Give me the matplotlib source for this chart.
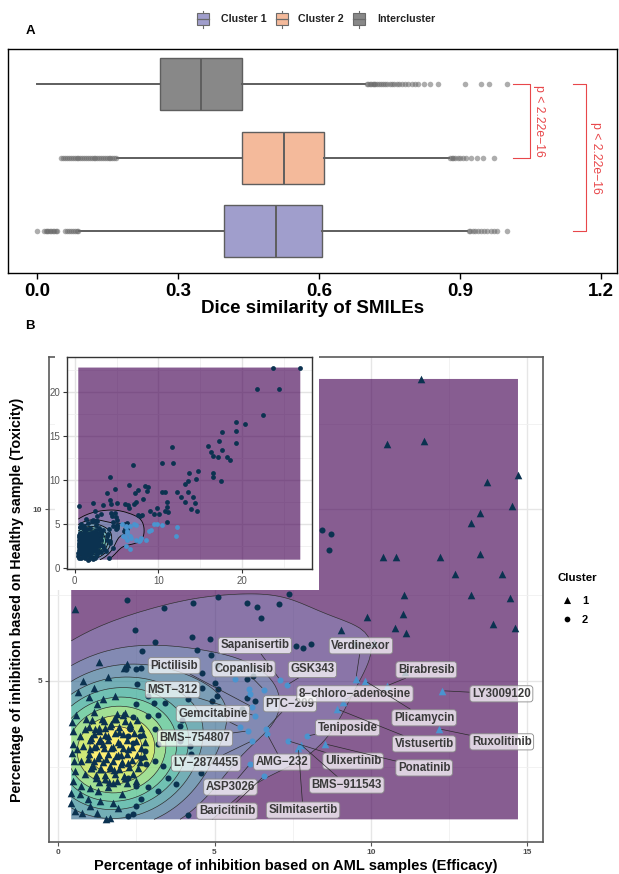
import numpy as np
import matplotlib
matplotlib.use("Agg")
import matplotlib.pyplot as plt
from matplotlib.patches import Rectangle

plt.rcParams['font.family'] = ['Liberation Sans', 'DejaVu Sans']

# ---------------- Panel A data (Dice similarity) ----------------
groups = ["Cluster 1", "Cluster 2", "Intercluster"]
group_colors = ["#A09ECC", "#F4BA9B", "#888888"]
box_q1 = [0.398, 0.435, 0.261]
box_med = [0.509, 0.526, 0.348]
box_q3 = [0.607, 0.611, 0.437]
whisk_lo = [0.089, 0.170, 0.000]
whisk_hi = [0.915, 0.876, 0.698]
out_c1 = [0.0, 0.014, 0.018, 0.021, 0.024, 0.027, 0.030, 0.033, 0.036, 0.040, 0.043,
          0.060, 0.064, 0.068, 0.072, 0.076, 0.080, 0.084, 0.088,
          0.918, 0.922, 0.927, 0.932, 0.938, 0.944, 0.951, 0.958, 0.965, 0.972, 0.979, 1.0]
out_c2 = [0.051, 0.056, 0.060, 0.064, 0.068, 0.072, 0.076, 0.080, 0.084, 0.088, 0.092,
          0.096, 0.100, 0.104, 0.108, 0.112, 0.116, 0.120, 0.124, 0.128, 0.132, 0.136,
          0.140, 0.144, 0.148, 0.152, 0.156, 0.160, 0.164, 0.168,
          0.878, 0.882, 0.886, 0.890, 0.895, 0.900, 0.906, 0.912, 0.924, 0.936, 0.949, 0.972]
out_ic = [0.702, 0.705, 0.708, 0.711, 0.714, 0.717, 0.720, 0.724, 0.728, 0.732, 0.736,
          0.740, 0.745, 0.750, 0.755, 0.760, 0.765, 0.770, 0.776, 0.782, 0.790, 0.797,
          0.805, 0.810, 0.823, 0.836, 0.853, 0.911, 0.945, 0.962, 1.0]
dice_ticks = [0.0, 0.3, 0.6, 0.9, 1.2]
p_label = "p < 2.22e\u221216"

# ---------------- Panel B data ----------------
# cluster 1 (triangles)
c1_x = [11.6, 10.5, 11.7, 13.7, 14.7, 14.5, 13.5, 13.2, 10.4, 10.8, 12.2, 13.5, 12.7, 14.2,
        11.05, 13.2, 14.44, 9.87, 11.02, 10.77, 11.12, 9.04, 13.9, 14.6, 10.1, 9.5, 11.1,
        0.58, 1.18, 1.5, 1.85, 2.08, 0.48, 0.7, 1.05, 1.34, 1.6, 0.48, 0.8, 1.02, 1.21, 1.44,
        1.69, 1.98, 2.24, 1.85, 1.53, 1.28, 0.96, 0.73, 0.51, 1.12, 1.37, 1.66, 2.01, 0.54,
        0.86, 1.21, 1.5, 1.76, 2.14, 0.48, 0.73, 1.02, 1.28, 0.42, 0.7, 0.96, 0.42, 1.02,
        1.34, 1.53, 1.66, 2.14,
        0.54, 1.31, 2.2, 2.12, 0.64, 0.99, 1.25, 1.44, 1.82, 1.88,
        0.45, 0.6, 0.9, 1.15, 1.4, 1.7, 1.95, 2.0, 1.8, 1.6, 1.05, 0.85, 1.3, 0.55, 0.75,
        1.25, 1.9, 2.05, 1.75, 0.45, 2.25, 2.3, 1.15, 0.8, 1.6,
        1.1, 1.47, 1.8, 2.13, 2.52, 1.0, 1.32, 1.66, 1.94, 2.31, 2.64,
        1.16, 1.49, 1.82, 2.09, 2.42, 2.7, 1.02, 1.3, 1.61, 1.9, 2.21, 2.48, 2.79,
        1.14, 1.46, 1.74, 2.06, 2.35, 2.66, 0.99, 1.31, 1.6, 1.92, 2.19, 2.51, 2.74,
        1.16, 1.44, 1.76, 2.04, 2.36, 2.63, 1.06, 1.34, 1.66, 1.94, 2.26, 2.54,
        1.21, 1.49, 1.81, 2.1, 2.41, 1.3, 1.62, 1.89, 2.21, 2.5]
c1_y = [13.8, 11.9, 12.0, 10.8, 11.0, 10.1, 9.9, 9.6, 8.6, 8.6, 8.6, 8.7, 8.1, 8.1,
        7.51, 7.49, 7.4, 6.87, 6.96, 6.55, 6.4, 6.49, 6.67, 6.55, 6.1, 6.1, 5.25,
        4.0, 3.6, 3.63, 3.89, 4.0, 3.54, 3.39, 3.33, 3.3, 3.39, 3.16, 3.1, 3.01, 3.1, 3.16,
        3.04, 3.16, 3.01, 2.81, 2.72, 2.75, 2.72, 2.66, 2.66, 2.51, 2.43, 2.51, 2.57, 2.37,
        2.28, 2.16, 2.13, 2.02, 2.16, 2.08, 1.93, 1.87, 1.78, 1.73, 1.7, 1.55, 1.43, 1.35,
        1.49, 0.96, 1.0, 4.06,
        7.08, 5.56, 5.5, 5.38, 4.68, 4.53, 4.33, 4.47, 4.56, 4.04,
        3.8, 3.0, 3.9, 4.1, 3.9, 3.75, 3.5, 2.85, 2.4, 1.9, 2.45, 3.6, 3.55, 1.2, 1.15,
        1.15, 1.3, 1.7, 1.45, 2.9, 2.6, 3.75, 4.8, 5.0, 5.1,
        3.86, 3.83, 3.88, 3.84, 3.85, 3.66, 3.63, 3.67, 3.64, 3.68, 3.62,
        3.46, 3.43, 3.47, 3.44, 3.48, 3.45, 3.26, 3.24, 3.27, 3.23, 3.28, 3.25, 3.22,
        3.06, 3.04, 3.07, 3.03, 3.08, 3.05, 2.86, 2.84, 2.87, 2.83, 2.88, 2.85, 2.82,
        2.66, 2.63, 2.67, 2.64, 2.68, 2.62, 2.46, 2.44, 2.47, 2.43, 2.48, 2.45,
        2.26, 2.24, 2.27, 2.23, 2.28, 2.06, 2.04, 2.07, 2.03, 2.08]
# cluster 2 (circles)
c2_x = [2.2, 3.39, 4.31, 5.1, 6.04, 6.36, 7.06, 7.38, 6.49, 2.46, 3.1, 4.28, 4.86, 2.68,
        4.44, 4.9, 7.6, 7.83, 8.08, 2.17, 2.49, 2.65, 2.52, 4.6, 5.08, 6.04, 6.23, 5.02,
        5.1, 5.08, 4.92, 4.6, 6.04, 6.29, 5.88, 2.88, 3.42, 2.49, 3.07, 4.15, 2.4, 2.88,
        3.2, 3.96, 2.3, 2.24, 2.62, 3.1, 3.2, 2.4, 2.78, 3.9, 3.9, 4.22, 4.25, 2.65, 2.81,
        3.1, 3.35, 4.57, 3.51, 3.77, 2.24, 2.49, 2.88, 3.2, 2.65, 2.49, 2.24, 2.4, 4.15,
        7.0, 4.2, 6.5, 4.8, 7.6, 3.8, 7.2, 8.2, 4.2, 8.43, 8.72, 8.66]
c2_y = [7.37, 7.13, 7.28, 7.43, 7.28, 7.16, 7.25, 7.54, 6.84, 6.49, 6.14, 6.29, 6.23, 5.88,
        5.91, 5.76, 6.02, 5.96, 6.08, 5.35, 5.35, 5.38, 4.91, 5.23, 5.45, 5.06, 5.15, 4.94,
        4.77, 4.56, 4.41, 4.8, 4.5, 4.41, 4.18, 4.56, 4.36, 4.33, 4.36, 4.47, 3.95, 3.98,
        4.0, 3.86, 3.6, 3.39, 3.39, 3.6, 3.16, 3.19, 2.95, 3.68, 3.25, 3.1, 2.86, 2.75, 2.57,
        2.66, 2.51, 2.3, 2.16, 1.99, 2.16, 1.93, 1.9, 1.78, 1.55, 1.35, 1.05, 1.11, 1.1,
        11.7, 10.4, 9.4, 9.05, 8.9, 8.5, 8.5, 7.9, 7.8, 9.39, 9.27, 8.8]
# points outside the zoomed window (only in the inset)
far_x = [23.75, 27.0, 21.8, 24.5, 22.5, 19.3, 20.4, 17.6, 19.3, 17.3, 19.3, 16.0, 16.3,
         17.6, 16.6, 17.2, 18.2, 18.6, 16.5, 16.6, 17.5]
far_y = [22.8, 22.8, 20.4, 20.4, 17.35, 16.6, 16.4, 15.45, 15.6, 14.5, 14.2, 13.9, 13.2,
         13.4, 12.8, 12.6, 12.65, 12.3, 10.8, 10.4, 9.9]
# highlighted drugs
drug_names = ["Sapanisertib", "GSK343", "Copanlisib", "Pictilisib", "MST\u2212312",
              "Gemcitabine", "BMS\u2212754807", "LY\u22122874455", "PTC\u2212209", "AMG\u2212232",
              "ASP3026", "Baricitinib", "Ulixertinib", "Teniposide", "Silmitasertib",
              "BMS\u2212911543", "Ponatinib", "Vistusertib", "8\u2212chloro\u2212adenosine",
              "Verdinexor", "Plicamycin", "Birabresib", "LY3009120", "Ruxolitinib"]
drug_x = [7.1, 7.32, 6.58, 6.2, 6.29, 5.81, 6.07, 6.2, 6.65, 6.68, 6.13, 6.58, 7.35, 7.96,
          7.68, 7.76, 8.53, 8.91, 9.1, 9.52, 9.81, 10.5, 12.27, 12.17]
drug_y = [5.02, 4.88, 4.74, 4.24, 3.98, 3.65, 3.54, 3.25, 3.6, 3.45, 2.57, 2.22, 3.25, 3.39,
          3.05, 3.14, 3.16, 4.18, 4.39, 5.06, 5.0, 4.85, 4.71, 3.6]
drug_cluster = [2, 2, 2, 2, 2, 2, 2, 2, 2, 2, 2, 2, 2, 2, 1, 1, 1, 1, 1, 1, 1, 1, 1, 1]
label_x = [6.29, 8.13, 5.93, 3.71, 3.66, 4.95, 4.38, 4.73, 7.41, 7.16, 5.51, 5.4, 9.43, 9.25,
           7.83, 9.23, 11.7, 11.7, 9.49, 9.68, 11.7, 11.77, 14.17, 14.18]
label_y = [6.03, 5.33, 5.35, 5.44, 4.74, 4.04, 3.33, 2.6, 4.33, 2.63, 1.9, 1.2, 2.66, 3.63,
           1.23, 1.96, 2.46, 3.16, 4.62, 6.02, 3.92, 5.32, 4.62, 3.22]
hl_extra_x = [5.67, 6.1, 6.13]
hl_extra_y = [5.06, 4.77, 4.62]

DARK = "#0B3250"
LIGHT = "#4A94CF"


def bw_nrd(v):
    q1, q3 = np.percentile(v, [25, 75])
    return 4 * 1.06 * min(np.std(v, ddof=1), (q3 - q1) / 1.34) * len(v) ** (-0.2)


def kde2d(x, y, n=100, sd=None):
    if sd is None:
        hx = bw_nrd(x) / 4
        hy = bw_nrd(y) / 4
    else:
        hx, hy = sd
    gx = np.linspace(x.min(), x.max(), n)
    gy = np.linspace(y.min(), y.max(), n)
    kx = np.exp(-0.5 * ((gx[:, None] - x[None, :]) / hx) ** 2) / (np.sqrt(2 * np.pi) * hx)
    ky = np.exp(-0.5 * ((gy[:, None] - y[None, :]) / hy) ** 2) / (np.sqrt(2 * np.pi) * hy)
    z = kx @ ky.T / len(x)
    return gx, gy, z.T


def density(ax, x, y, lw, lcol, nb=10, sd=None):
    gx, gy, Z = kde2d(np.asarray(x), np.asarray(y), sd=sd)
    br = np.linspace(0, Z.max() * 1.0001, nb + 1)
    cols = plt.cm.viridis(np.linspace(0, 1, nb))
    ax.contourf(gx, gy, Z, levels=br, colors=cols, alpha=0.64, zorder=1, antialiased=True)
    ax.contour(gx, gy, Z, levels=br[1:-1], colors=lcol, linewidths=lw, zorder=2)


fig = plt.figure(figsize=(6.19, 8.74), dpi=100)
W, H = 619.0, 874.0


def frac(l, t, r, b):
    return [l / W, 1 - b / H, (r - l) / W, (b - t) / H]


# ---------------- Panel A ----------------
axA = fig.add_axes(frac(8, 49, 617, 273))
flier_lists = [out_c1, out_c2, out_ic]
stats = []
for i in range(3):
    stats.append(dict(med=box_med[i], q1=box_q1[i], q3=box_q3[i], whislo=whisk_lo[i],
                      whishi=whisk_hi[i], fliers=flier_lists[i]))
kw = dict(positions=[1, 2, 3], widths=0.71, patch_artist=True, showcaps=False,
          boxprops=dict(edgecolor="#5E5E5E", linewidth=1.0),
          whiskerprops=dict(color="#5E5E5E", linewidth=1.4),
          medianprops=dict(color="#5E5E5E", linewidth=1.4),
          flierprops=dict(marker="o", markerfacecolor="#6A6A6A", markeredgecolor="none",
                          alpha=0.55, markersize=4.0))
try:
    bp = axA.bxp(stats, orientation="horizontal", **kw)
except TypeError:
    bp = axA.bxp(stats, vert=False, **kw)
for patch, c in zip(bp["boxes"], group_colors):
    patch.set_facecolor(c)
axA.set_xlim(-0.062, 1.234)
axA.set_ylim(0.43, 3.48)
axA.set_xticks(dice_ticks)
axA.set_xticklabels([f"{t:.1f}" for t in dice_ticks], fontsize=13.5, fontweight="bold")
axA.set_yticks([])
axA.tick_params(axis="x", length=4, width=1, pad=3)
for s in axA.spines.values():
    s.set_linewidth(1.0)
    s.set_color("black")
axA.set_xlabel("Dice similarity of SMILEs", fontsize=13.5, fontweight="bold", labelpad=0)
red = "#E8474A"
for (x0, xb, y1, y2, xt, yt) in [(1.013, 1.049, 3, 2, 1.067, 2.5), (1.14, 1.169, 3, 1, 1.19, 2.0)]:
    axA.plot([x0, xb, xb, x0], [y1, y1, y2, y2], color=red, lw=0.8, clip_on=False)
    axA.text(xt, yt, p_label, rotation=270, color=red, fontsize=8.8, ha="center", va="center")

# ---------------- Panel B main ----------------
axB = fig.add_axes(frac(49, 357, 543, 842), zorder=1)
axB.set_xlim(-0.29, 15.5)
axB.set_ylim(0.3, 14.44)
mx = np.array(c1_x + c2_x + drug_x + hl_extra_x)
my = np.array(c1_y + c2_y + drug_y + hl_extra_y)
density(axB, mx, my, 0.45, "#1f1f1f", sd=(1.6, 1.1))
axB.set_xticks([0, 5, 10, 15])
axB.set_yticks([5, 10])
axB.set_xticks([2.5, 7.5, 12.5], minor=True)
axB.set_yticks([2.5, 7.5, 12.5], minor=True)
axB.grid(which="major", color="#E6E6E6", lw=1.0, zorder=0)
axB.grid(which="minor", color="#F0F0F0", lw=0.6, zorder=0)
axB.set_axisbelow(True)
axB.tick_params(which="major", length=3, width=0.8, color="#555555", labelsize=6,
                labelcolor="#4D4D4D", pad=2)
axB.tick_params(which="minor", length=0)
for lab in axB.get_xticklabels() + axB.get_yticklabels():
    lab.set_fontweight("bold")
for s in axB.spines.values():
    s.set_color("#5A5A5A")
    s.set_linewidth(1.2)
axB.scatter(c1_x, c1_y, marker="^", s=30, c=DARK, linewidths=0, zorder=3)
axB.scatter(c2_x, c2_y, marker="o", s=19, c=DARK, linewidths=0, zorder=3)
dx1 = [x for x, c in zip(drug_x, drug_cluster) if c == 1]
dy1 = [y for y, c in zip(drug_y, drug_cluster) if c == 1]
dx2 = [x for x, c in zip(drug_x, drug_cluster) if c == 2]
dy2 = [y for y, c in zip(drug_y, drug_cluster) if c == 2]
axB.scatter(dx1, dy1, marker="^", s=30, c=LIGHT, linewidths=0, zorder=3.5)
axB.scatter(dx2 + hl_extra_x, dy2 + hl_extra_y, marker="o", s=19, c=LIGHT, linewidths=0, zorder=3.5)
for name, px, py, lx, ly in zip(drug_names, drug_x, drug_y, label_x, label_y):
    axB.annotate(name, xy=(px, py), xytext=(lx, ly), ha="center", va="center",
                 fontsize=8.3, fontweight="bold", color="#3A3A3A", zorder=5,
                 bbox=dict(boxstyle="round,pad=0.18,rounding_size=0.25",
                           fc=(1, 1, 1, 0.72), ec="#8A8A8A", lw=0.6),
                 arrowprops=dict(arrowstyle="-", color="#2A2A2A", lw=0.5,
                                 shrinkA=0, shrinkB=2))
axB.set_xlabel("Percentage of inhibition based on AML samples (Efficacy)", fontsize=10.5,
               fontweight="bold", labelpad=2)
axB.set_ylabel("Percentage of inhibition based on Healthy sample (Toxicity)", fontsize=10.3,
               fontweight="bold", labelpad=6)

# ---------------- Overlay (white background for inset, legends, tags) ----------------
ov = fig.add_axes([0, 0, 1, 1], zorder=2)
ov.set_xlim(0, W)
ov.set_ylim(H, 0)
ov.axis("off")
ov.add_patch(Rectangle((55, 350), 264, 240, fc="white", ec="none"))
ov.text(30, 31, "A", fontsize=9.5, fontweight="bold", ha="center", va="center")
ov.text(30, 326, "B", fontsize=9.5, fontweight="bold", ha="center", va="center")
# top legend
leg_x = [197, 276, 353]
txt_x = [221, 298, 377]
for i in range(3):
    x0 = leg_x[i]
    ov.plot([x0 + 6, x0 + 6], [10.5, 13], color="#6A6A6A", lw=0.8)
    ov.plot([x0 + 6, x0 + 6], [25, 27.5], color="#6A6A6A", lw=0.8)
    ov.add_patch(Rectangle((x0, 13), 12, 12, fc=group_colors[i], ec="#6A6A6A", lw=0.8))
    ov.plot([x0, x0 + 12], [19, 19], color="#6A6A6A", lw=0.9)
    ov.text(txt_x[i], 19, groups[i], fontsize=7.7, fontweight="bold", color="#222222",
            ha="left", va="center")
# cluster legend
ov.text(557, 578, "Cluster", fontsize=8.2, fontweight="bold", ha="left", va="center")
ov.scatter([567], [600], marker="^", s=26, c="black", linewidths=0)
ov.scatter([567], [619], marker="o", s=17, c="black", linewidths=0)
ov.text(582, 601, "1", fontsize=8, fontweight="bold", ha="left", va="center")
ov.text(582, 620, "2", fontsize=8, fontweight="bold", ha="left", va="center")

# ---------------- Inset ----------------
axI = fig.add_axes(frac(67, 357, 312, 569), zorder=3)
ix = np.array(c1_x + c2_x + drug_x + hl_extra_x + far_x)
iy = np.array(c1_y + c2_y + drug_y + hl_extra_y + far_y)
axI.set_xlim(-0.93, 28.4)
axI.set_ylim(-0.1, 24.0)
density(axI, ix, iy, 0.6, "black")
axI.set_xticks([0, 10, 20])
axI.set_yticks([0, 5, 10, 15, 20])
axI.set_xticks([5, 15, 25], minor=True)
axI.set_yticks([2.5, 7.5, 12.5, 17.5, 22.5], minor=True)
axI.grid(which="major", color="#E3E3E3", lw=1.0, zorder=0)
axI.grid(which="minor", color="#EFEFEF", lw=0.6, zorder=0)
axI.set_axisbelow(True)
axI.tick_params(which="major", length=3, width=0.8, color="#333333", labelsize=7,
                labelcolor="#555555", pad=2)
axI.tick_params(which="minor", length=0)
for s in axI.spines.values():
    s.set_color("#333333")
    s.set_linewidth(1.0)
axI.scatter(c1_x + c2_x + far_x, c1_y + c2_y + far_y, marker="o", s=12, c=DARK,
            linewidths=0, zorder=3)
axI.scatter(drug_x + hl_extra_x, drug_y + hl_extra_y, marker="o", s=12, c=LIGHT,
            linewidths=0, zorder=3.5)

fig.savefig("out.png", dpi=100)
